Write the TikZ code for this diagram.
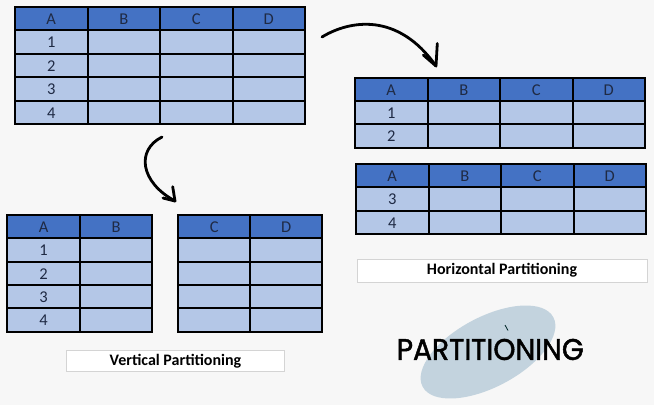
\documentclass[tikz,border=0pt]{standalone}
\usepackage{fontspec}
\setmainfont{Carlito}
\newfontfamily\handfont{Poppins}[FakeBold=1.6]
\usetikzlibrary{calc}
\definecolor{bgc}{HTML}{F7F7F7}
\definecolor{hdrc}{HTML}{4472C4}
\definecolor{bodyc}{HTML}{B4C7E7}
\definecolor{txtc}{HTML}{1F2A44}
\definecolor{ellc}{HTML}{C3D3DE}
\definecolor{boxline}{HTML}{D4D4D4}
\tikzset{
  hdrfill/.style={fill=hdrc},
  bodyfill/.style={fill=bodyc},
  gridline/.style={draw=black, line width=2pt, line cap=rect},
  celltxt/.style={text=txtc, font=\fontsize{16.5}{16.5}\selectfont, inner sep=0pt, anchor=center},
  labelbox/.style={draw=boxline, fill=white, line width=0.6pt, font=\bfseries\fontsize{16}{16}\selectfont, inner sep=0pt},
  handarrow/.style={draw=black, line width=2.8pt, line cap=round, line join=round},
}
\newcommand\mktable[8]{%
  % #1 name, #2 x0, #3 y0, #4 ncols, #5 body rows, #6 col width, #7 row height, #8 headers
  \pgfmathsetmacro\tabW{#4*#6}
  \pgfmathsetmacro\tabH{(#5+1)*#7}
  \fill[hdrfill] (#2,#3) rectangle ({#2+\tabW},{#3+#7});
  \fill[bodyfill] (#2,{#3+#7}) rectangle ({#2+\tabW},{#3+\tabH});
  \foreach \i in {0,...,#4} \draw[gridline] ({#2+\i*#6},#3) -- ({#2+\i*#6},{#3+\tabH});
  \pgfmathtruncatemacro\tabR{#5+1}
  \foreach \j in {0,...,\tabR} \draw[gridline] (#2,{#3+\j*#7}) -- ({#2+\tabW},{#3+\j*#7});
  \foreach \t [count=\i] in {#8}
    \node[celltxt] (#1-h\i) at ({#2+(\i-0.5)*#6},{#3+0.5*#7+0.5}) {\t};
}
\newcommand\mkdigits[6]{%
  % #1 name, #2 x0, #3 y0, #4 col width, #5 row height, #6 list
  \foreach \t [count=\j] in {#6}
    \node[celltxt] (#1-r\j) at ({#2+0.5*#4},{#3+(\j+0.5)*#5+0.5}) {\t};
}
\begin{document}
\begin{tikzpicture}[x=1pt,y=-1pt]
  \fill[bgc] (0,0) rectangle (654,405);
  \useasboundingbox (0,0) rectangle (654,405);

  % original table
  \mktable{main}{15}{7}{4}{4}{72.5}{23.4}{A,B,C,D}
  \mkdigits{main}{15}{7}{72.5}{23.4}{1,2,3,4}

  % horizontal partitions
  \mktable{hone}{355}{77.7}{4}{2}{72.5}{23.3}{A,B,C,D}
  \mkdigits{hone}{355}{77.7}{72.5}{23.3}{1,2}
  \mktable{htwo}{356}{164}{4}{2}{72.5}{23.4}{A,B,C,D}
  \mkdigits{htwo}{356}{164}{72.5}{23.4}{3,4}

  % vertical partitions
  \mktable{vone}{7.3}{215}{2}{4}{72.5}{23.3}{A,B}
  \mkdigits{vone}{7.3}{215}{72.5}{23.3}{1,2,3,4}
  \mktable{vtwo}{178.3}{215}{2}{4}{72}{23.3}{C,D}

  % labels
  \node[labelbox, minimum width=290pt, minimum height=23pt] (hlabel) at (502,270.5) {Horizontal Partitioning};
  \node[labelbox, minimum width=217.6pt, minimum height=21.7pt] (vlabel) at (175.5,360.8) {Vertical Partitioning};

  % hand-drawn arrows
  \coordinate (a1s) at (322,37);
  \coordinate (a1t) at (436,66);
  \draw[handarrow] (a1s) .. controls (350,20) and (398,12) .. (a1t);
  \draw[handarrow] (423.3,55) -- (a1t) -- (437.3,43.5);

  \coordinate (a2s) at (162,137);
  \coordinate (a2t) at (175,201);
  \draw[handarrow] (a2s) .. controls (136,150) and (140,182) .. (a2t);
  \draw[handarrow] (163,198) -- (a2t) -- (172.7,186.7);

  % title with ellipse
  \fill[ellc, rotate around={28:(488,352)}] (488,352) ellipse [x radius=74, y radius=35];
  \draw[draw=black!70!teal, line width=0.8pt] (505,325) -- (508,330.5);
  \node[inner sep=0pt] (title) at (490.3,349.5)
    {\resizebox{187pt}{21pt}{\handfont PARTITIONING}};
\end{tikzpicture}
\end{document}
